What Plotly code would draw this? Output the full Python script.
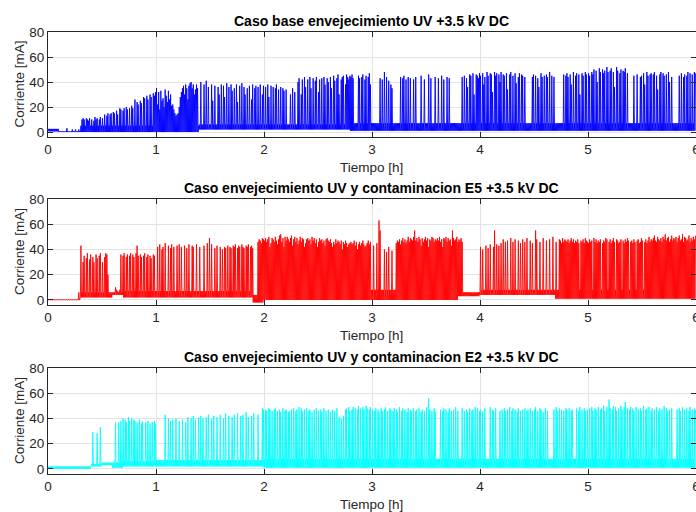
import plotly.graph_objects as go

# Sample step of the peak records [h]; baseline bands are stored per 0.1 h
DT = 0.01
T_MAX = 6

# ---------------- Caso base (blue) ----------------
base_peaks = [
    0,0,0,0,0,0,0,0,0,0, 0,0,0,0,0,0,0,3,0,0,
    0,0,2,0,0,2,0,0,2,0, 0,10,11,10,0,11,10,9,11,0,
    10,0,9,12,10,11,0,10,12,0, 11,0,14,0,13,15,0,14,15,0,
    16,15,0,17,14,0,19,18,0,17, 19,0,20,18,0,19,0,21,19,0,
    26,0,24,22,0,25,23,0,28,27, 0,29,26,0,30,28,0,31,29,32,
    35,22,32,18,33,25,27,20,34,29, 24,33,26,30,21,22,18,15,13,14,
    15,20,28,32,35,37,30,38,35,26, 37,39,40,35,38,30,34,38,35,0,
    0,40,0,0,38,0,41,0,36,0, 0,38,25,0,37,0,0,36,30,0,
    38,0,37,28,0,39,0,36,0,38, 33,0,35,0,38,24,0,37,0,39,
    0,36,30,0,35,0,37,0,26,38, 0,35,37,0,36,0,38,0,30,37,
    0,36,0,38,28,0,37,0,36,0, 35,38,0,34,0,36,0,35,33,0,
    34,0,0,0,30,0,35,0,32,0, 0,40,43,0,30,42,0,44,36,0,
    42,0,44,35,0,43,0,41,44,0, 32,42,0,43,0,44,38,0,43,40,
    0,44,35,0,45,41,0,43,46,30, 0,42,44,45,0,38,46,44,42,45,
    44,46,43,0,0,0,0,45,43,0, 44,46,0,42,45,0,44,47,38,0,
    0,0,0,0,0,0,0,43,0,42, 0,48,0,44,0,41,0,38,35,0,
    0,0,0,0,0,0,44,0,43,45, 0,42,0,44,0,43,0,0,42,0,
    44,0,0,0,0,45,0,0,42,0, 0,0,46,0,43,0,0,0,44,0,
    0,43,0,0,45,0,42,0,0,44, 0,43,0,0,0,0,0,0,0,0,
    0,0,0,44,0,45,0,43,36,0, 46,45,0,47,30,0,46,45,43,47,
    45,0,47,38,44,0,48,45,0,47, 46,32,0,48,45,47,0,46,40,48,
    0,46,45,0,47,34,0,46,48,0, 45,0,47,39,0,44,47,0,46,45,
    0,44,0,0,0,0,0,0,44,46, 0,45,0,43,36,0,47,44,0,45,
    0,46,44,0,48,0,45,0,44,0, 0,0,0,0,0,0,0,46,0,45,
    47,44,0,46,38,0,48,0,45,47, 0,46,30,0,47,45,0,48,46,0,
    47,45,0,48,46,50,0,49,40,0, 51,48,0,50,47,49,0,52,48,0,
    49,51,0,48,36,0,52,49,0,47, 50,0,49,48,51,0,47,0,0,0,
    0,0,45,0,0,46,0,0,44,45, 0,47,38,0,48,45,0,46,47,0,
    46,48,0,45,34,0,46,48,0,47, 45,0,46,0,48,40,0,44,0,0,
    0,0,0,0,45,0,47,0,44,46, 0,45,48,0,47,0,46,0,48,47,
]
base_lo = [0.5, 0, 0] + [0] * 11 + [2] * 14 + [1] * 32
base_hi = [2.5, 0.5, 0.5] + [5] * 11 + [6] * 14 + [7] * 32

# ---------------- Contaminacion E5 (red) ----------------
e5_peaks = [
    0,0,0,0,0,0,0,0,0,0, 0,0,0,0,0,0,0,0,0,0,
    0,0,0,0,0,0,0,0,6,0, 43,0,30,35,0,33,37,0,32,36,
    0,34,30,0,36,33,0,35,37,0, 30,0,34,37,36,20,0,0,0,0,
    0,0,10,8,7,0,8,36,0,35, 37,0,34,36,0,35,37,0,36,34,
    0,37,43,35,0,36,34,0,35,37, 0,34,36,0,35,33,0,36,35,0,
    0,42,0,44,0,40,42,0,45,0, 0,43,0,41,44,0,42,0,0,43,
    0,44,0,42,0,0,43,0,41,0, 44,0,0,43,42,0,0,44,0,0,
    42,0,0,0,43,0,0,45,0,49, 0,44,0,0,41,0,43,0,0,42,
    0,40,0,42,41,0,43,0,42,41, 0,43,42,44,0,41,43,42,0,44,
    42,41,0,43,42,44,0,42,43,41, 0,0,0,0,46,48,47,45,49,48,
    47,49,46,48,50,42,45,49,48,46, 50,47,44,48,51,52,46,49,42,50,
    47,50,48,46,49,51,43,48,50,46, 49,44,47,50,46,49,48,42,45,48,
    49,47,48,44,50,47,49,45,48,42, 46,49,47,48,45,47,43,48,49,47,
    46,48,45,42,46,44,48,45,47,46, 44,47,40,46,44,47,45,42,44,45,
    46,44,45,47,43,46,40,44,46,43, 45,47,44,42,43,45,47,44,46,0,
    0,43,0,0,45,0,63,55,0,0, 0,40,0,38,0,42,0,0,39,0,
    0,0,45,47,46,48,44,47,49,46, 48,45,47,50,46,49,48,47,50,55,
    47,49,46,50,48,43,49,46,48,50, 47,49,42,48,47,50,49,46,48,47,
    49,47,50,46,48,42,49,48,50,46, 49,47,48,43,55,49,47,48,50,46,
    48,47,49,46,0,0,0,0,0,0, 0,0,0,0,0,0,0,0,0,0,
    42,0,40,0,0,43,0,41,0,44, 0,0,42,55,0,44,0,43,0,45,
    0,48,0,46,0,47,0,0,49,0, 46,0,48,0,0,47,0,45,0,48,
    0,46,0,49,0,0,47,0,45,0, 0,55,48,0,0,46,0,0,49,0,
    0,47,0,0,48,0,0,50,0,0, 46,0,0,48,47,45,49,46,48,47,
    46,48,45,47,49,46,48,45,47,46, 48,45,0,47,46,48,45,49,47,46,
    45,48,46,47,0,49,46,48,45,47, 46,48,0,45,47,46,49,48,0,46,
    48,45,47,49,46,0,48,47,45,46, 48,0,47,45,48,46,49,47,0,46,
    47,45,48,46,0,47,48,45,46,49, 47,0,46,48,45,47,50,46,48,47,
    49,51,47,46,50,48,47,49,46,50, 48,52,47,49,50,46,48,51,47,49,
    48,50,46,49,51,47,48,52,46,50, 49,47,48,51,46,49,47,50,48,51,
]
e5_lo = [0, 0, 0, 2, 2, 2, 4] + [2] * 12 + [-2] + [0] * 18 + [3, 3] + [4] * 7 + [1] * 13
e5_hi = [0.3, 0.3, 0.3, 6, 6, 6, 6] + [7] * 12 + [4] + [8] * 18 + [6, 6] + [8] * 7 + [8] * 13

# ---------------- Contaminacion E2 (cyan) ----------------
e2_peaks = [
    0,0,0,0,0,0,0,0,0,0, 0,0,0,0,0,0,0,0,0,0,
    0,0,0,0,0,0,0,0,0,0, 0,0,0,0,0,0,0,0,0,0,
    0,29,0,0,0,28,0,0,33,0, 0,0,0,0,0,0,0,0,0,0,
    0,0,37,0,0,37,0,38,0,40, 0,39,37,0,41,38,0,40,0,39,
    38,0,37,0,39,0,36,38,0,0, 37,0,38,0,36,0,37,0,38,36,
    0,0,0,0,0,0,0,0,43,0, 0,40,0,38,0,39,0,0,40,0,
    0,38,0,0,39,0,0,37,0,41, 0,0,40,0,42,0,39,0,0,41,
    0,42,0,40,0,0,41,0,43,0, 0,40,0,42,0,0,41,0,0,43,
    0,0,40,0,44,0,0,42,0,0, 41,0,43,0,0,44,0,0,42,0,
    43,0,0,45,0,41,0,0,42,0, 44,0,0,0,43,0,0,0,48,47,
    0,47,46,0,48,47,0,46,0,47, 48,0,46,0,47,45,0,48,0,46,
    47,0,45,46,0,47,0,48,0,46, 47,0,49,0,48,46,0,47,0,48,
    0,46,47,0,45,0,47,0,48,0, 46,0,47,45,0,48,0,46,0,47,
    0,45,0,47,0,46,0,48,0,41, 0,40,0,42,0,47,48,0,49,46,
    0,47,49,0,48,0,47,50,0,48, 0,49,47,0,50,48,0,47,49,0,
    47,0,46,48,0,47,45,0,48,46, 0,47,49,0,46,0,48,47,0,46,
    48,0,47,45,0,49,0,46,48,0, 47,0,45,48,0,47,46,0,48,0,
    46,47,0,48,0,45,47,0,46,0, 49,0,56,47,0,46,0,48,45,0,
    0,0,0,47,0,46,48,0,47,0, 45,48,0,46,0,47,0,49,0,46,
    0,0,0,48,0,46,0,47,45,0, 48,0,46,47,0,49,0,48,0,46,
    47,0,46,0,48,0,0,0,0,49, 0,47,46,0,48,0,0,0,46,0,
    47,0,48,46,0,47,0,49,0,46, 48,0,47,0,45,48,0,46,0,47,
    0,48,0,46,47,0,48,0,46,0, 47,49,0,46,0,48,47,0,45,0,
    48,0,46,0,0,0,0,0,47,0, 49,46,0,48,0,47,0,46,0,48,
    47,0,48,0,46,47,0,0,0,48, 0,46,49,0,47,0,48,46,0,47,
    0,48,0,49,46,0,48,47,0,49, 0,47,48,0,50,46,0,49,0,55,
    48,0,47,50,0,49,46,0,48,0, 50,47,0,49,53,0,48,0,47,49,
    0,48,46,0,49,0,47,0,48,46, 0,50,0,47,48,0,49,0,46,48,
    0,47,0,49,0,46,48,0,47,0, 50,0,48,46,0,47,0,48,0,0,
    0,0,47,0,48,46,0,49,0,47, 0,48,0,46,49,0,47,0,48,47,
]
e2_lo = [0, 0, 0, 0, 2, 3, 1] + [2] * 3 + [2] * 10 + [1] * 40
e2_hi = [2, 2, 2, 2, 4, 5, 5] + [6] * 3 + [7] * 10 + [8] * 40

TITLES = [
    "Caso base envejecimiento UV +3.5 kV DC",
    "Caso envejecimiento UV y contaminacion E5 +3.5 kV DC",
    "Caso envejecimiento UV y contaminacion E2 +3.5 kV DC",
]
COLORS = ["#0000ff", "#ff0000", "#00ffff"]
X_TICKS = [0, 1, 2, 3, 4, 5, 6]
Y_TICKS = [0, 20, 40, 60, 80]


def signal(peaks, lo, hi):
    """Build the current trace: each sample rises from the band floor to its
    recorded peak (or to the band top when no discharge was recorded)."""
    xs, ys = [], []
    for i, p in enumerate(peaks):
        t = i * DT
        k = min(i // 10, len(lo) - 1)
        xs += [t, t + DT / 2]
        ys += [lo[k], p if p > 0 else hi[k]]
    return xs, ys


W, H = 696, 512
# panel boxes in pixels: (top, bottom)
BOXES = [(32, 137), (199, 305), (368, 474)]
LEFT = 48

fig = go.Figure()
series = [(base_peaks, base_lo, base_hi), (e5_peaks, e5_lo, e5_hi), (e2_peaks, e2_lo, e2_hi)]
FONT = "Liberation Sans, Arial, Helvetica, sans-serif"
TXT = "#262626"

for n, ((pk, lo, hi), col) in enumerate(zip(series, COLORS)):
    xs, ys = signal(pk, lo, hi)
    ax = "" if n == 0 else str(n + 1)
    fig.add_trace(go.Scatter(x=xs, y=ys, mode="lines", line=dict(color=col, width=0.9),
                             xaxis="x" + ax, yaxis="y" + ax, showlegend=False,
                             hoverinfo="skip"))
    top, bot = BOXES[n]
    common = dict(showline=True, linecolor=TXT, linewidth=1, mirror="ticks",
                  ticks="inside", ticklen=5, tickcolor=TXT, showgrid=True,
                  gridcolor="#e3e3e3", gridwidth=1, zeroline=False, automargin=False,
                  ticklabeloverflow="allow",
                  tickfont=dict(family=FONT, size=13.5, color=TXT))
    fig.layout["xaxis" + ax] = dict(common, domain=[LEFT / W, 1], range=[0, T_MAX],
                                    tickvals=X_TICKS, anchor="y" + ax)
    fig.layout["yaxis" + ax] = dict(common, domain=[1 - bot / H, 1 - top / H], range=[-4, 80],
                                    tickvals=Y_TICKS, anchor="x" + ax)
    cx = (LEFT + W) / 2 / W
    fig.add_annotation(text="<b>%s</b>" % TITLES[n], x=cx, y=1 - (top - 11.5) / H,
                       xref="paper", yref="paper", showarrow=False, xanchor="center",
                       yanchor="middle", font=dict(family=FONT, size=14, color="#000000"))
    fig.add_annotation(text="Tiempo [h]", x=cx, y=1 - (bot + 30.5) / H,
                       xref="paper", yref="paper", showarrow=False, xanchor="center",
                       yanchor="middle", font=dict(family=FONT, size=13.5, color=TXT))
    fig.add_annotation(text="Corriente [mA]", x=19 / W, y=1 - (top + bot) / 2 / H,
                       xref="paper", yref="paper", showarrow=False, textangle=-90,
                       xanchor="center", yanchor="middle",
                       font=dict(family=FONT, size=13.5, color=TXT))

fig.update_layout(width=W, height=H, margin=dict(l=0, r=0, t=0, b=0, autoexpand=False),
                  paper_bgcolor="white", plot_bgcolor="white")
fig.write_html("out.html")
